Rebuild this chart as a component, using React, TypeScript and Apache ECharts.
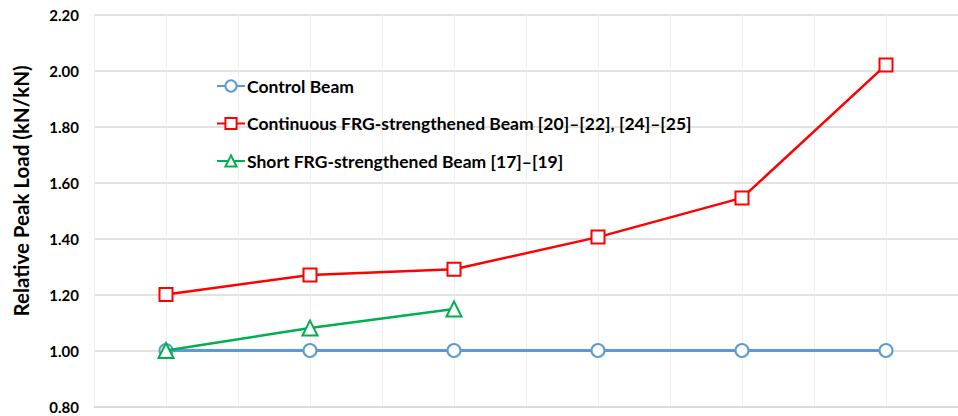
import React, { useEffect, useRef } from "react";
import * as echarts from "echarts";

const xPositions = [1, 3, 5, 7, 9, 11];
const controlBeam = [1.0, 1.0, 1.0, 1.0, 1.0, 1.0];
const continuousBeam = [1.2, 1.27, 1.29, 1.405, 1.545, 2.02];
const shortBeam = [1.0, 1.08, 1.148];
const seriesNames = [
  "Control Beam",
  "Continuous FRG-strengthened Beam [20]–[22], [24]–[25]",
  "Short FRG-strengthened Beam [17]–[19]",
];

const pair = (vals: number[]) => vals.map((v, i) => [xPositions[i], v]);

export default function App() {
  const ref = useRef<HTMLDivElement>(null);
  useEffect(() => {
    if (!ref.current) return;
    const chart = echarts.init(ref.current, undefined, { renderer: "svg" });
    const font = "Lato, 'Open Sans', sans-serif";
    chart.setOption({
      animation: false,
      backgroundColor: "#ffffff",
      grid: { left: 94, right: 0, top: 14.5, bottom: 9.5 },
      xAxis: {
        type: "value",
        min: 0,
        max: 12,
        interval: 1,
        axisLabel: { show: false },
        axisTick: { show: false },
        axisLine: { show: true, lineStyle: { color: "#d9d9d9", width: 1.5 } },
        splitLine: { show: true, lineStyle: { color: "#efefef", width: 1 } },
      },
      yAxis: {
        type: "value",
        min: 0.8,
        max: 2.2,
        interval: 0.2,
        axisLine: { show: false },
        axisTick: { show: false },
        axisLabel: {
          formatter: (v: number) => v.toFixed(2),
          fontFamily: font,
          fontWeight: "bold",
          fontSize: 15,
          color: "#000",
          margin: 15,
        },
        splitLine: { lineStyle: { color: "#d9d9d9", width: 1.5 } },
      },
      legend: {
        orient: "vertical",
        left: 211,
        top: 72,
        itemWidth: 28,
        itemHeight: 14,
        itemGap: 19.5,
        textStyle: {
          fontFamily: font,
          fontWeight: "bold",
          fontSize: 17.5,
          lineHeight: 18,
          color: "#000",
          padding: [0, 0, 0, -3],
        },
        data: seriesNames,
      },
      graphic: [
        {
          type: "text",
          x: 21,
          y: 191,
          rotation: Math.PI / 2,
          style: {
            text: "Relative Peak Load (kN/kN)",
            fontFamily: font,
            fontWeight: "bold",
            fontSize: 20.5,
            fill: "#000",
            align: "center",
            verticalAlign: "middle",
          },
        },
      ],
      series: [
        {
          name: seriesNames[0],
          type: "line",
          data: pair(controlBeam),
          symbol: "emptyCircle",
          symbolSize: 13,
          itemStyle: { color: "#5b9bd5", borderWidth: 2 },
          lineStyle: { color: "#5b9bd5", width: 3 },
          z: 2,
        },
        {
          name: seriesNames[1],
          type: "line",
          data: pair(continuousBeam),
          symbol: "emptyRect",
          symbolSize: 13,
          itemStyle: { color: "#ff0000", borderWidth: 2 },
          lineStyle: { color: "#ff0000", width: 2.5 },
          z: 3,
        },
        {
          name: seriesNames[2],
          type: "line",
          data: pair(shortBeam),
          symbol: "emptyTriangle",
          symbolSize: 15,
          itemStyle: { color: "#00b050", borderWidth: 2 },
          lineStyle: { color: "#00b050", width: 2.5 },
          z: 4,
        },
      ],
    });
    return () => chart.dispose();
  }, []);
  return <div ref={ref} style={{ width: 958, height: 416, position: "fixed", left: 0, top: 0 }} />;
}
